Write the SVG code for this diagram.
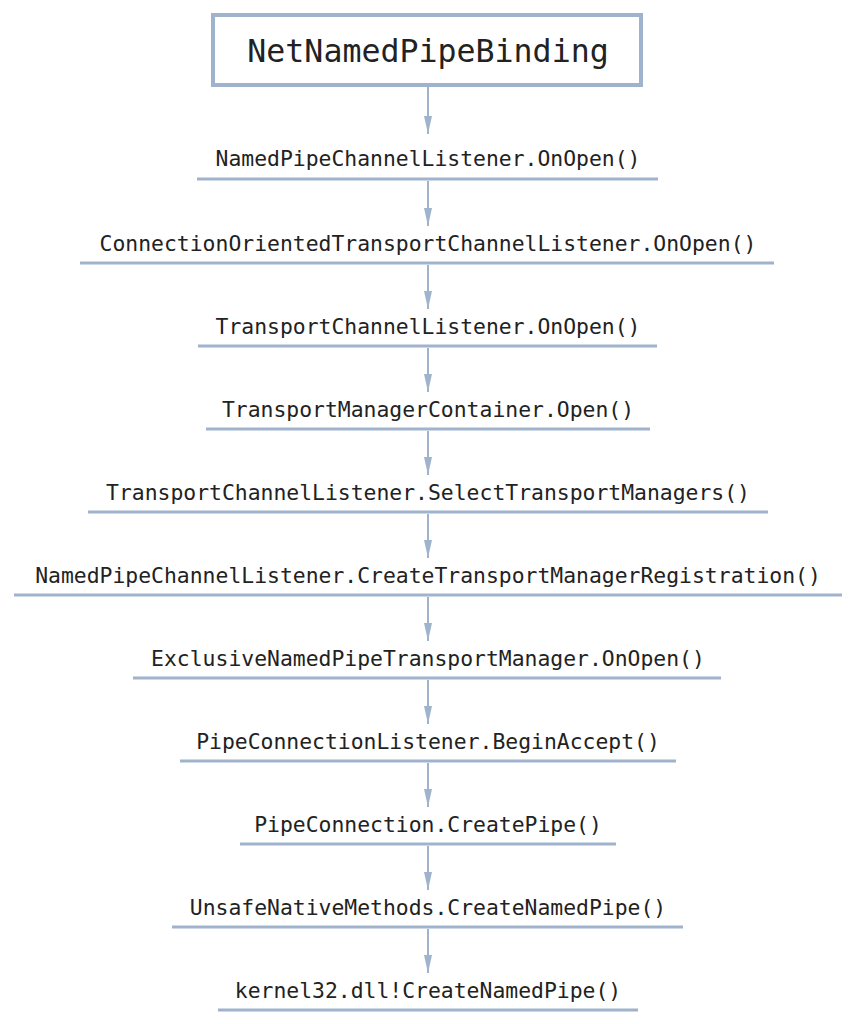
<svg xmlns="http://www.w3.org/2000/svg" width="856" height="1024" viewBox="0 0 856 1024">
<style>
.t{font-family:"DejaVu Sans Mono","Liberation Mono",monospace;font-size:21.4px;fill:#222;text-anchor:middle}
.u{stroke:#9fb4cc;stroke-width:3}
.c{stroke:#9fb4cc;stroke-width:2;fill:none}
</style>
<defs><marker id="b" markerWidth="18" markerHeight="8" refX="18" refY="4" orient="auto" markerUnits="userSpaceOnUse" viewBox="0 0 18 8"><path d="M0,0 L18,4 L0,8 Z" fill="#9fb4cc"/></marker></defs>
<g id="n0"><rect x="213" y="15" width="428" height="70" fill="#fff" stroke="#9fb4cc" stroke-width="4"/><text x="428" y="62" class="t" style="font-size:31.6px">NetNamedPipeBinding</text></g>
<g id="n1"><text x="428" y="166" class="t">NamedPipeChannelListener.OnOpen()</text><line class="u" x1="197" y1="179" x2="658" y2="179"/></g>
<g id="n2"><text x="428" y="251" class="t">ConnectionOrientedTransportChannelListener.OnOpen()</text><line class="u" x1="80" y1="263" x2="774" y2="263"/></g>
<g id="n3"><text x="428" y="334" class="t">TransportChannelListener.OnOpen()</text><line class="u" x1="198" y1="346" x2="657" y2="346"/></g>
<g id="n4"><text x="428" y="417" class="t">TransportManagerContainer.Open()</text><line class="u" x1="206" y1="429" x2="650" y2="429"/></g>
<g id="n5"><text x="428" y="500" class="t">TransportChannelListener.SelectTransportManagers()</text><line class="u" x1="88" y1="512" x2="768" y2="512"/></g>
<g id="n6"><text x="428" y="583" class="t">NamedPipeChannelListener.CreateTransportManagerRegistration()</text><line class="u" x1="14" y1="595" x2="842" y2="595"/></g>
<g id="n7"><text x="428" y="666" class="t">ExclusiveNamedPipeTransportManager.OnOpen()</text><line class="u" x1="133" y1="678" x2="721" y2="678"/></g>
<g id="n8"><text x="428" y="749" class="t">PipeConnectionListener.BeginAccept()</text><line class="u" x1="180" y1="761" x2="676" y2="761"/></g>
<g id="n9"><text x="428" y="832" class="t">PipeConnection.CreatePipe()</text><line class="u" x1="240" y1="844" x2="616" y2="844"/></g>
<g id="n10"><text x="428" y="915" class="t">UnsafeNativeMethods.CreateNamedPipe()</text><line class="u" x1="172" y1="927" x2="683" y2="927"/></g>
<g id="n11"><text x="428" y="998" class="t">kernel32.dll!CreateNamedPipe()</text><line class="u" x1="218" y1="1010" x2="638" y2="1010"/></g>
<g id="connectors" class="c">
<line x1="428" y1="87" x2="428" y2="134" marker-end="url(#b)"/>
<line x1="428" y1="181" x2="428" y2="226" marker-end="url(#b)"/>
<line x1="428" y1="265" x2="428" y2="309" marker-end="url(#b)"/>
<line x1="428" y1="348" x2="428" y2="392" marker-end="url(#b)"/>
<line x1="428" y1="431" x2="428" y2="475" marker-end="url(#b)"/>
<line x1="428" y1="514" x2="428" y2="558" marker-end="url(#b)"/>
<line x1="428" y1="597" x2="428" y2="641" marker-end="url(#b)"/>
<line x1="428" y1="680" x2="428" y2="724" marker-end="url(#b)"/>
<line x1="428" y1="763" x2="428" y2="807" marker-end="url(#b)"/>
<line x1="428" y1="846" x2="428" y2="890" marker-end="url(#b)"/>
<line x1="428" y1="929" x2="428" y2="973" marker-end="url(#b)"/>
</g>
</svg>
